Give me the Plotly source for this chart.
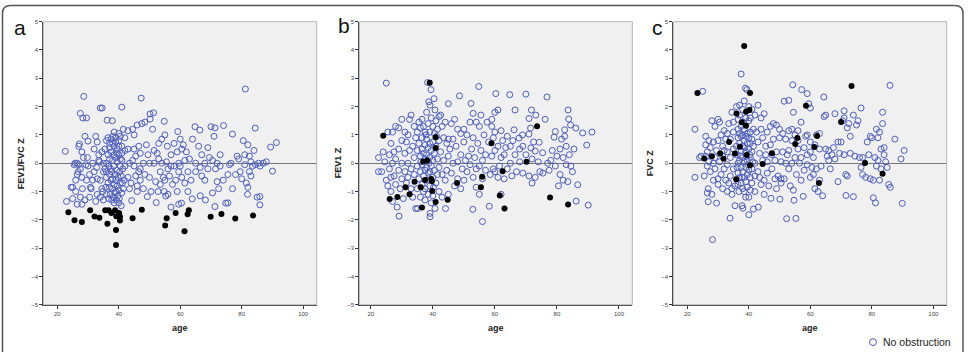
import plotly.graph_objects as go

# ---------------- data (age, Z) ----------------
A_NO_OBS = [
    (22.6,0.42),(23,-1.35),(24.5,-0.85),(25,-1.25),(25.5,-0.05),(25.8,0.0),(25,-0.85),(26,-0.6),(26.5,-1.45),(26,-1.0),(26.8,-0.3),(26.5,0.0),
    (27,0.6),(27.2,0.68),(27.5,1.76),(28.3,1.6),(29.5,1.6),(28.6,2.36),(28,0.4),(28.5,0.2),(27.5,-0.2),(28,-0.5),(28.2,-0.9),(28,-1.45),(27.5,-1.2),
    (29,-1.3),(29.5,-0.6),(29,0.95),(30,0.78),(29.8,0.2),(30,-0.1),(30.5,-0.4),(29.3,-0.05),(27,-0.05),(26.5,-0.4),(30.5,-1.2),(30.8,-0.85),
    (31.5,0.0),(32,0.5),(32.5,0.95),(33,0.75),(33.5,0.3),(32,-0.3),(33,-0.55),(34,-0.6),(31.5,-0.6),(32.5,-1.35),(33,-1.1),(34,-1.2),(34.5,-0.9),
    (34,1.95),(34.6,1.95),(33.5,0.1),(34.5,0.4),(35,0.0),(31,-0.9),(35,-0.3),(35,-1.3),(34.8,-1.0),(33.7,0.05),(32.8,-0.15),
    (36.2,1.52),(37.9,1.5),(36,0.8),(36.5,0.9),(37,0.7),(37.5,0.85),(38,0.95),(38.5,0.6),(39,0.75),(39.5,0.5),(40,0.8),(40.5,0.95),(41,0.6),
    (41,1.98),(38.5,1.1),(40,1.05),(41.5,1.2),(42,0.9),(36.5,0.3),(37,0.15),(37.5,0.4),(38,0.1),(38.5,0.3),(39,0.2),(39.5,0.05),(40,0.3),
    (40.5,0.15),(41,0.1),(36,0.0),(36.8,-0.1),(37.3,-0.2),(37.8,-0.3),(38.3,-0.1),(38.8,-0.4),(39.3,-0.25),(39.8,-0.5),(40.3,-0.3),(40.8,-0.45),
    (41.3,-0.2),(36,-0.5),(36.5,-0.7),(37,-0.85),(37.5,-0.6),(38,-0.9),(38.5,-0.75),(39,-1.0),(39.5,-0.8),(40,-0.95),(40.5,-0.7),(41,-1.05),
    (36,-1.1),(36.7,-1.25),(37.2,-1.1),(37.7,-1.3),(38.2,-1.2),(38.7,-1.05),(39.2,-1.3),(39.7,-1.15),(40.2,-1.25),(40.8,-1.5),(41.5,-0.9),
    (41.8,-0.6),(42,-0.1),(42,0.45),(35.5,0.5),(35.5,-0.2),(36,-0.3),(37,0.55),(38,0.7),(39,0.9),(40,0.6),(41,0.35),(39.5,0.35),(38,-0.55),
    (37,-0.4),(39,-0.6),(40.5,-0.1),(41.2,-0.7),(35.8,-0.85),(38.5,-1.4),(40,-1.4),
    (43,1.15),(43,0.5),(43.5,0.0),(43,-0.5),(43.5,-0.9),(44,-0.7),(44.5,1.2),(45,1.0),(45,0.5),(45.5,0.25),(45,-0.1),(45.5,-0.45),(46,-0.8),
    (44.2,-1.32),(46,1.35),(46.5,0.6),(47,0.35),(47,-0.2),(47,-0.6),(47.5,1.4),(47.3,2.3),(48.5,1.45),(48,0.0),(48,-0.9),(48.5,-0.4),
    (49.3,-1.18),(49,0.65),(49.5,0.3),(50,0.0),(50.2,1.56),(50.2,1.74),(50,-0.5),(50.5,-1.0),(46,-1.0),(44.5,0.1),(46.5,-0.3),
    (51.3,1.78),(51,1.2),(51.5,0.45),(51.5,0.0),(52,-0.65),(52.2,-1.39),(52.8,-1.0),(53,0.7),(53,0.15),(53.5,-0.3),(53.5,-0.75),(54,0.85),
    (54,0.0),(54.8,1.48),(55,1.0),(54.5,-0.5),(55,-0.6),(55.3,-1.16),(54.8,-1.0),(55.5,0.05),(55.8,0.6),(56,-0.2),(56.5,-0.45),(56,-1.1),
    (57,0.3),(57.5,-0.75),(57,-1.55),(58,-0.1),(58,0.7),(58.5,-0.6),(59.2,1.12),(59,0.4),(59.5,0.0),(59.5,-0.3),(59,-1.0),(59.5,-1.45),
    (60,0.85),(60.5,0.5),(60,-0.1),(60.5,-0.5),(60.4,-1.41),(61,0.65),(61.5,-0.7),(61.5,0.1),(52.5,0.35),(57,-0.1),
    (62,0.4),(62.5,-0.3),(62.5,-1.0),(63,0.15),(63.5,-0.6),(63.9,-1.26),(64,0.85),(64.8,1.29),(65,0.0),(65,-0.3),(66,0.6),(66.4,1.17),
    (66.5,-0.15),(66.5,-1.15),(67,-0.45),(67,0.3),(68,-0.6),(68.2,-1.3),(68,0.0),(69,0.55),(69.5,0.2),(69,-0.2),(70,1.29),(70.5,0.1),(70.5,-1.05),
    (71.3,1.25),(71,0.95),(71.3,-1.53),(71.5,-0.2),(72,-0.65),(72,0.0),(72.5,-0.9),(73,0.3),(73,-0.1),(74.1,1.33),(74,-0.6),(74.8,-1.41),
    (75.5,-1.4),(75.5,-0.4),(76,-0.05),(76.5,0.0),(77,1.03),(77,-0.9),(78,-0.4),(78.5,0.25),(79,0.15),(79.5,-0.3),(80,-0.55),
    (80.5,0.8),(81,0.3),(81.2,2.62),(81,-0.05),(81.5,-0.7),(81.9,-1.1),(82,0.65),(82,-0.85),(82.5,0.25),(82.5,-0.3),(83,0.05),(83,-0.45),
    (83.5,-0.1),(84,0.45),(84.4,1.24),(84.5,-0.05),(85,-1.2),(85.9,-1.18),(85.9,-1.47),(85.5,0.0),(86,-0.1),(87,0.0),(88,0.05),(89.4,0.57),
    (91.3,0.73),(90,-0.28),
]
A_OBS = [
    (23.6,-1.73),(25.6,-2.01),(28.0,-2.08),(30.7,-1.66),(32.1,-1.88),(33.7,-1.93),(35.6,-1.66),(36.3,-2.14),(36.7,-1.66),(37.6,-1.76),
    (38.8,-1.66),(39.1,-2.36),(39.1,-2.89),(39.2,-1.87),(40.1,-1.76),(40.4,-2.02),(40.4,-1.89),(44.5,-1.94),(47.5,-1.64),(55.1,-2.20),
    (55.6,-1.94),(58.5,-1.76),(61.4,-2.40),(62.4,-1.80),(62.8,-1.66),(69.9,-1.89),(73.4,-1.79),(77.9,-1.95),(83.7,-1.85),
]

B_NO_OBS = [
    (22.5,0.2),(22.5,-0.3),(23.5,-0.3),(24,0.4),(24.5,0.05),(25,2.83),(25,-0.6),(25.5,1.1),(25.5,-0.8),(26,0.3),(26,-0.2),(26.5,0.7),
    (26.5,-0.5),(26.5,-1.0),(27,1.1),(27,0.0),(27,-1.35),(27.5,0.4),(27.5,-0.45),(28,1.3),(28,0.15),(28,-0.75),(28.5,-1.55),(29,1.25),
    (29,0.5),(29,-0.25),(29.1,-1.87),(29.5,-0.9),(30,1.55),(30,0.8),(30,0.0),(30,-0.55),(30.5,-1.25),
    (31,1.1),(31,0.35),(31,-0.3),(31.5,0.75),(31.5,-0.7),(32,1.0),(32,0.0),(32,-0.5),(32.5,1.55),(32.5,0.45),(33,-0.2),(33,-0.9),(33,1.7),
    (33.5,0.6),(33.5,-1.2),(34,1.3),(34,0.2),(34,-0.4),(34.5,-1.6),(34.5,0.9),(35,1.1),(35,-0.1),(35,-0.9),(35.1,-1.6),(35,0.45),
    (35.5,1.45),(35.5,0.7),(35.5,-0.55),(36,1.25),(36,0.25),(36,-0.3),(36,-1.2),(36.5,1.55),(36.5,0.9),(36.5,0.5),(36.5,-0.05),(36.5,-0.75),
    (37,1.3),(37,0.35),(37,-0.45),(37,-1.0),(37.5,1.1),(37.5,0.65),(37.5,0.15),(37.5,-0.25),(37.5,-0.9),(37.5,-1.3),(38,1.8),(38,0.85),
    (38,0.3),(38,-0.15),(38,-0.6),(38.3,2.85),(38.7,2.17),(38.5,1.4),(38.5,0.55),(38.5,-0.35),(38.5,-1.1),(39.1,2.05),(39.4,2.6),(39,1.1),
    (39,0.7),(39,0.2),(39,-0.3),(39,-0.8),(39.1,-1.77),(39.1,-1.89),(39.5,1.6),(39.5,0.45),(39.5,-0.1),(39.5,-1.4),(40.4,2.28),(40.7,1.88),
    (40,1.3),(40,0.75),(40,0.1),(40,-0.5),(40,-1.15),(40.5,1.05),(40.5,0.35),(40.5,-0.25),(40.7,-1.6),(41,1.5),(41,0.6),(41,-0.7),
    (41.5,1.2),(41.5,0.15),(41.5,-0.4),(42,1.65),(42,0.8),(42,-0.15),(42,-1.0),(36.2,0.05),(38.8,0.0),(40.2,-0.85),(37.8,1.0),(41.2,0.95),
    (42.5,1.7),(42.5,0.4),(43,1.3),(43,-0.4),(43,-1.2),(43.5,0.9),(43.5,0.1),(44,1.45),(44,-0.6),(44.1,-1.6),(44.5,0.7),(44.5,-0.25),
    (45,2.1),(45,0.85),(45,0.25),(45,-1.1),(45.5,0.5),(46,1.4),(46,-0.35),(46.5,0.85),(46.5,0.0),(47,1.55),(47,-0.8),(47.5,0.6),(48,1.2),
    (48,0.05),(48,-0.55),(48.6,2.38),(49,1.05),(49,0.3),(49,-0.9),(49.5,-0.2),(50,1.2),(50,0.75),(50,-0.6),(50.5,0.1),
    (51,1.0),(51,-0.3),(51.5,0.25),(52,1.45),(52,-0.05),(52.3,2.11),(52.5,0.5),(52.9,-1.63),(53,1.76),(53,0.9),(53,-0.5),(53.5,0.2),
    (54,1.45),(54,-0.2),(54,-0.85),(54.5,0.7),(54.8,2.71),(55,1.3),(55,-0.1),(55,-1.1),(55.5,0.45),(55.5,1.7),(56,-2.06),(56,0.1),
    (56,-0.55),(56.5,1.0),(57,0.3),(57,-0.25),(57.5,1.45),(58,0.75),(58.2,-1.52),(58.5,-0.4),(59,1.55),(59,1.3),(59,0.25),(59.5,-0.2),
    (60,1.8),(60,1.1),(60,0.45),(60,-0.3),(60.3,2.46),(59.5,0.9),
    (61,1.88),(61,0.6),(61,-0.5),(61.5,-0.1),(62,1.15),(62,0.2),(62,-1.1),(62.5,0.8),(63,0.3),(63,-0.55),(63.5,0.55),(64,0.95),(64,-0.2),
    (64.8,2.42),(65,0.6),(65,0.0),(65.5,-0.45),(65.8,0.8),(66.2,1.18),(66.5,1.88),(66.5,0.3),(67,-0.3),(67.8,0.89),(68,0.5),(68,0.05),
    (68.9,1.0),(69,0.6),(69,-0.35),(70,2.44),(70,0.3),
    (71,1.58),(71,1.03),(71,-0.45),(71.5,1.24),(71.6,0.54),(71.8,1.88),(72,0.15),(72,-0.7),(72.5,0.75),(73,0.43),(73,-0.5),(73.2,1.7),
    (74,0.05),(74.3,0.74),(74.5,-0.3),(75.4,0.37),(75.5,-0.35),(76.2,1.55),(76.8,2.34),(77,0.0),(77.5,-0.25),(78,0.1),(78.5,0.45),
    (79.1,0.92),(79.5,1.12),(79.5,-0.1),(80,0.25),
    (80.5,-0.8),(81,0.5),(81,-0.4),(81.5,0.85),(82,0.2),(82,-0.6),(82.5,1.18),(82.5,0.95),(83,0.6),(83,-0.05),(83.5,-0.65),(83.6,1.88),
    (83.8,1.56),(84,0.3),(84.4,1.35),(84.5,-0.1),(85,-0.3),(85.5,0.5),(86.1,1.24),(86.2,-1.34),(86.7,-0.76),(88.3,1.07),(89.6,0.64),
    (90.1,-1.48),(91.3,1.1),
]
B_OBS = [
    (24.0,0.97),(26.1,-1.26),(28.6,-1.19),(31.2,-0.85),(32.5,-1.10),(34.1,-0.65),(36.1,-0.85),(36.5,-1.56),(36.9,0.06),(38.2,0.10),
    (37.5,-0.59),(39.5,-0.56),(39.7,-0.64),(39.8,-0.98),(39.0,2.84),(40.9,0.92),(40.9,0.54),(40.9,-1.37),(44.8,-1.29),(47.8,-0.70),
    (55.5,-0.85),(55.9,-0.48),(58.9,0.71),(61.6,-1.14),(62.5,-0.28),(63.1,-1.60),(70.2,0.05),(73.6,1.31),(77.8,-1.21),(83.6,-1.46),
]

C_NO_OBS = [
    (22.5,1.2),(22.5,-0.5),(24,0.2),(24.5,0.25),(25,2.54),(25.5,-0.45),(26,0.95),(26,0.65),(26.5,0.4),(26.5,-0.1),(26.8,-0.9),(26.5,-1.05),
    (26.8,-1.36),(27,0.8),(27.5,0.55),(27.5,-0.3),(28,1.5),(28,-1.1),(28.2,-2.7),(28.5,0.75),(28.5,0.0),(28.5,-0.6),(29,1.3),(29,-0.2),
    (29.5,-1.41),(29.5,0.45),(30,1.55),(30,0.8),(30,-0.55),(30,-0.75),(27,0.05),(26,0.25),(29,0.2),(30.5,0.05),
    (30.5,1.45),(31,1.0),(31.5,0.6),(31,-0.4),(31.5,-0.9),(32,1.15),(32,0.45),(32,-0.2),(32.5,-0.6),(33,1.05),(33,0.4),(33,-0.05),
    (33.5,1.4),(33.5,-0.7),(33.9,-1.94),(34,0.85),(34,0.2),(34,-0.45),(34.5,-0.9),(34.5,1.8),(35,1.1),(35,0.5),(35,-0.2),(35.5,-0.8),
    (35.5,-1.5),(33,-1.0),(34.5,-1.1),(35,1.45),(32.5,0.85),(31.5,0.25),
    (36,2.0),(36.5,1.55),(36.5,1.2),(36.5,0.9),(36,0.3),(36.5,0.0),(36.5,-0.35),(36.5,-0.75),(36.8,-1.0),(37,2.05),(37,1.7),(37,1.05),
    (37,0.7),(37,0.1),(37,-0.5),(37.5,3.15),(37.5,1.3),(37.5,0.95),(37.5,0.45),(37.5,-0.15),(37.5,-0.7),(37.8,-1.5),(38,1.9),(38,1.0),
    (38,0.6),(38,0.2),(38,-0.3),(38,-0.9),(38.1,-1.59),(38.5,2.2),(38.5,1.2),(38.5,0.8),(38.5,0.05),(38.5,-0.5),(38.5,-1.0),(38.9,2.65),
    (39,1.6),(39,0.95),(39,0.4),(39,-0.15),(39,-0.65),(39,-1.2),(39.4,2.6),(39.5,1.05),(39.5,0.7),(39.5,0.1),(39.5,-0.4),(39.5,-0.85),
    (40,2.0),(40,1.5),(40,0.9),(40,0.5),(40,-0.25),(40,-1.82),(40,-1.2),(40.5,1.6),(40.5,1.1),(40.5,0.7),(40.5,0.2),(40.5,-0.5),
    (40.5,-0.95),(41,1.9),(41,0.85),(41,0.4),(41,-0.2),(41,-0.7),(41.5,-1.62),(41.5,1.2),(41.5,0.6),(42,1.7),(42,0.0),(42,-0.45),(42,-1.0),
    (36,0.6),(36.2,-0.15),(38.2,1.45),(39.7,-0.05),(37.3,0.25),(40.3,0.3),(41.3,0.05),(38.7,0.55),(39.2,0.25),(37.8,-0.5),
    (42.5,1.1),(43,2.05),(43,0.75),(43,-0.3),(43.1,-1.55),(43.5,0.35),(44,1.2),(44,1.6),(44,-0.75),(44.5,0.9),(44.5,0.1),(45,1.75),
    (45,-0.6),(45,-1.1),(45.5,0.6),(46,1.1),(46,0.05),(46,-0.35),(46.5,-0.8),(47,1.3),(47,0.65),(47.2,-1.24),(47.5,-0.2),(48,1.4),
    (48,0.85),(48.5,0.1),(48.5,-0.55),(49,1.35),(49,0.4),(49,-0.9),(49.5,-0.45),(50,1.2),(50,0.9),(50.1,-1.27),(50.5,0.05),(50.5,-0.55),
    (50.5,-0.7),(45.5,0.3),(47.5,0.3),(43.5,-0.5),
    (51,1.05),(51,0.4),(51.5,2.19),(51.5,-0.55),(52,0.85),(52,0.0),(52.3,-1.96),(53,2.22),(53,1.15),(53,0.45),(53,-0.2),(53.5,-0.8),
    (54,1.2),(54,0.8),(54,0.0),(54.3,2.77),(54.5,1.8),(54.7,-1.31),(54.5,-0.95),(55,1.0),(55,0.2),(55.3,-1.95),(55.5,-0.4),(56,1.15),
    (56,0.5),(56.5,0.0),(57,1.45),(57.2,2.6),(57,0.2),(57,-0.6),(57.7,-1.17),(58,0.55),(58,-0.25),(58.5,0.95),(59,2.46),(59,1.0),
    (59,0.3),(59,-0.05),(59.5,2.1),(60,1.95),(60,0.75),(60,0.4),(60,-0.5),(60.5,-0.15),(56,0.8),(52.5,0.3),
    (61,0.2),(61,-0.4),(61.5,-0.9),(62,-0.2),(62,1.0),(62.5,-1.0),(63,1.05),(63,0.5),(63.5,-0.1),(64,-1.15),(64.4,2.34),(64.5,1.65),
    (65,1.7),(65,0.5),(65.5,0.25),(66,0.45),(66,0.1),(66.5,-0.2),(67,0.3),(67.5,0.55),(68,0.15),(68,1.75),(69,0.75),(69,-0.65),
    (69.5,0.35),(70,0.75),(63,-0.6),(61.5,0.65),
    (70.5,1.5),(71,1.85),(71,1.6),(71,0.3),(71.5,-0.4),(71.6,-1.14),(72,1.25),(72,-0.45),(72.5,1.4),(73,0.95),(73,0.35),(74,-1.18),
    (74,1.7),(74.5,0.25),(75,1.35),(75.5,1.5),(76,0.2),(76.5,1.95),(76.5,-0.15),(77,-0.4),(77,0.2),(78,-0.5),(78.5,0.75),(79,0.3),
    (79.5,-0.55),(79.5,0.95),
    (80,0.9),(80.5,-1.22),(80.5,-0.6),(81,0.2),(81.2,-1.4),(81.5,1.2),(81.5,-0.1),(82,0.9),(82,0.1),(82.5,-0.6),(82.5,1.1),(83,0.5),
    (83,-0.2),(83.5,1.4),(83.5,1.8),(84,0.3),(84,0.55),(84.5,0.05),(85,-0.15),(85.5,-0.75),(85.9,2.75),(86,-0.85),(87.5,0.85),
    (89.5,0.15),(89.9,-1.42),(90.5,0.45),
]
C_OBS = [
    (38.5,4.14),(23.3,2.48),(40.4,2.48),(36.0,1.76),(39.1,1.82),(40.2,1.88),(37.7,1.45),(39.1,1.32),(33.6,0.75),(37.1,0.58),
    (30.7,0.34),(25.5,0.17),(28.0,0.25),(31.8,0.16),(35.5,0.34),(39.3,0.29),(40.4,-0.07),(35.9,-0.57),(44.5,-0.03),(47.5,0.35),
    (55.1,0.68),(55.8,0.89),(58.6,2.03),(61.3,0.57),(62.2,0.96),(62.8,-0.70),(70.0,1.46),(73.4,2.73),(77.8,0.01),(83.5,-0.37),
]

PANEL_LETTERS = ["a", "b", "c"]
Y_TITLES = ["FEV1/FVC Z", "FEV1 Z", "FVC Z"]
X_TITLE = "age"
X_TICKS = [20, 40, 60, 80, 100]
Y_TICKS = [-5, -4, -3, -2, -1, 0, 1, 2, 3, 4, 5]
LEGEND_LABEL = "No obstruction"

# ---------------- layout helpers ----------------
W, H = 975, 352
def px(x): return x / W
def py(y): return 1 - y / H

BLUE = "#4d5dbd"
FONT = "Arial, Liberation Sans, sans-serif"

panels = [
    dict(data=(A_NO_OBS, A_OBS), dom=(43.3, 316.7), xr=(15.45, 104.4), ytx=21, letter=(20, 25)),
    dict(data=(B_NO_OBS, B_OBS), dom=(359.3, 632.3), xr=(16.3, 104.3), ytx=338, letter=(344, 23)),
    dict(data=(C_NO_OBS, C_OBS), dom=(673.3, 946.7), xr=(15.45, 104.35), ytx=650, letter=(657, 25)),
]

fig = go.Figure()
annotations = []
shapes = []
ydom = (py(307), py(19))

for i, p in enumerate(panels):
    n = "" if i == 0 else str(i + 1)
    xa, ya = "x" + n, "y" + n
    no_obs, obs = p["data"]
    fig.add_trace(go.Scatter(
        x=[a for a, _ in no_obs], y=[z for _, z in no_obs], mode="markers", xaxis=xa, yaxis=ya,
        name=LEGEND_LABEL, showlegend=False,
        marker=dict(symbol="circle-open", size=6, color=BLUE, line=dict(width=1, color=BLUE))))
    fig.add_trace(go.Scatter(
        x=[a for a, _ in obs], y=[z for _, z in obs], mode="markers", xaxis=xa, yaxis=ya,
        name="Obstruction", showlegend=False,
        marker=dict(symbol="circle", size=6, color="black")))
    axis_common = dict(showgrid=False, ticks="outside", ticklen=3, tickwidth=1, tickcolor="#333",
                       showline=True, linecolor="#333", linewidth=1,
                       tickfont=dict(size=6, color="#444", family=FONT))
    fig.update_layout(**{
        ("xaxis" + n): dict(domain=[px(p["dom"][0]), px(p["dom"][1])], range=list(p["xr"]),
                             tickvals=X_TICKS, anchor=ya, zeroline=False, **axis_common),
        ("yaxis" + n): dict(domain=list(ydom), range=[-5, 5], tickvals=Y_TICKS, anchor=xa,
                             zeroline=True, zerolinecolor="#777", zerolinewidth=1, **axis_common),
    })
    shapes.append(dict(type="rect", xref=xa + " domain", yref=ya + " domain", x0=0, x1=1, y0=0, y1=1,
                       line=dict(color="#b5b5b5", width=1), layer="above"))
    annotations.append(dict(text="<b>%s</b>" % Y_TITLES[i], x=px(p["ytx"]), y=py(163), xref="paper", yref="paper",
                            xanchor="center", yanchor="middle",
                            textangle=-90, showarrow=False, font=dict(size=9, color="#222", family=FONT)))
    annotations.append(dict(text="<b>%s</b>" % X_TITLE, x=px((p["dom"][0] + p["dom"][1]) / 2), y=py(331),
                            xanchor="center", yanchor="middle",
                            xref="paper", yref="paper", showarrow=False, font=dict(size=9, color="#222", family=FONT)))
    annotations.append(dict(text=PANEL_LETTERS[i], x=px(p["letter"][0]), y=py(p["letter"][1]), xref="paper", yref="paper",
                            xanchor="center", yanchor="middle",
                            showarrow=False, font=dict(size=21, color="#111", family=FONT)))

# legend key (open circle) and label
shapes.append(dict(type="circle", xref="paper", yref="paper",
                   x0=px(869.5), x1=px(876.5), y0=py(348.5), y1=py(341.5),
                   line=dict(color=BLUE, width=1)))
annotations.append(dict(text=LEGEND_LABEL, x=px(881), y=py(345), xref="paper", yref="paper",
                        xanchor="left", yanchor="middle", showarrow=False,
                        font=dict(size=10.5, color="#222", family=FONT)))

# rounded outer frame (open at the bottom)
rx, ry = 8 / W, 8 / H
x0, x1, yt, yb = px(2.5), px(963), py(2.5), py(360)
frame = (f"M {x0},{yb} L {x0},{yt - ry} Q {x0},{yt} {x0 + rx},{yt} "
         f"L {x1 - rx},{yt} Q {x1},{yt} {x1},{yt - ry} L {x1},{yb}")
shapes.append(dict(type="path", path=frame, xref="paper", yref="paper", line=dict(color="#555", width=1.5)))

fig.update_layout(
    width=W, height=H, margin=dict(l=0, r=0, t=0, b=0),
    paper_bgcolor="white", plot_bgcolor="#f0f0f0",
    font=dict(family=FONT),
    showlegend=False,
    annotations=annotations, shapes=shapes,
)

fig.write_html("out.html")
